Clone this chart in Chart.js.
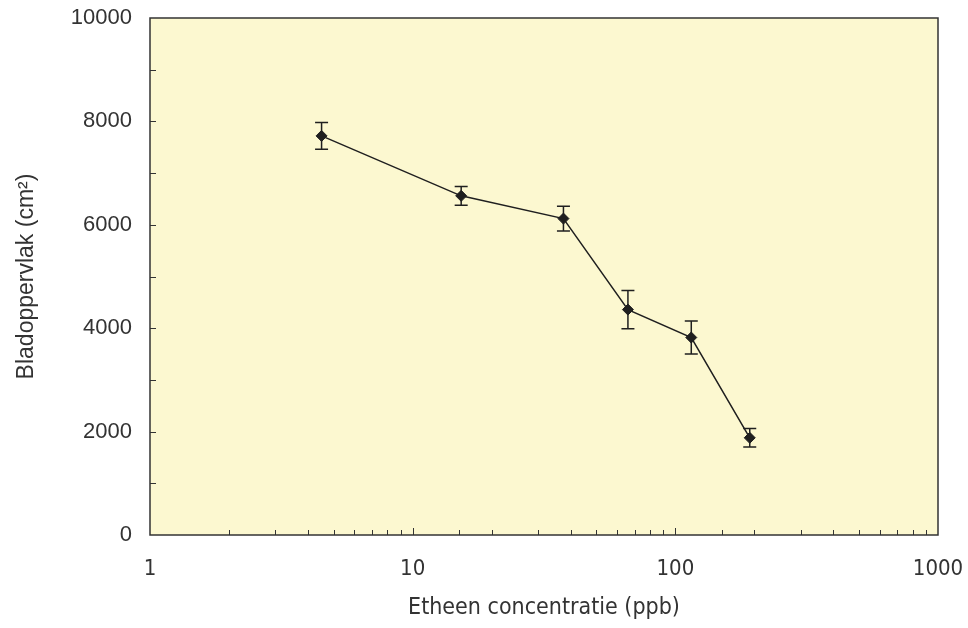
<!DOCTYPE html>
<html>
<head>
<meta charset="utf-8">
<script src="https://cdn.jsdelivr.net/npm/chart.js@4/dist/chart.umd.min.js"></script>
<style>
  body { margin: 0; background: #fff; }
  #wrap { width: 968px; height: 628px; position: relative; }
</style>
</head>
<body>
<div id="wrap"><canvas id="chart"></canvas></div>
<script>
const concentration = [4.5, 15.3, 37.5, 66, 115, 192];      // ppb
const leafArea      = [7720, 6560, 6120, 4360, 3820, 1880]; // cm²
const leafAreaErr   = [260, 180, 240, 370, 320, 180];       // ± error
const yTickLabels   = [0, 2000, 4000, 6000, 8000, 10000];
const xTickLabels   = [1, 10, 100, 1000];

const ink = "#333333";
const markColor = "#1f1f1f";
const narrow = "'DejaVu Sans Condensed', 'Liberation Sans Narrow', 'Liberation Sans', sans-serif";

// background of the plot area + frame + inward ticks + error bars
const framePlugin = {
  id: "frame",
  beforeDraw(chart) {
    const { ctx, chartArea: a } = chart;
    ctx.save();
    ctx.fillStyle = "#FCF8D0";
    ctx.fillRect(a.left, a.top, a.right - a.left, a.bottom - a.top);
    ctx.restore();
  },
  beforeDatasetsDraw(chart) {
    const { ctx, chartArea: a, scales } = chart;
    ctx.save();
    ctx.strokeStyle = ink;
    ctx.lineWidth = 1;
    // x ticks (log), pointing up into the plot
    scales.x.ticks.forEach(t => {
      const v = t.value;
      if (v <= 1 || v >= 1000) return;
      const px = Math.round(scales.x.getPixelForValue(v)) + 0.5;
      const len = xTickLabels.includes(v) ? 7 : 5;
      ctx.beginPath();
      ctx.moveTo(px, a.bottom);
      ctx.lineTo(px, a.bottom - len);
      ctx.stroke();
    });
    // y ticks, every 1000, pointing right
    scales.y.ticks.forEach(t => {
      const v = t.value;
      if (v <= 0 || v >= 10000) return;
      const py = Math.round(scales.y.getPixelForValue(v)) + 0.5;
      ctx.beginPath();
      ctx.moveTo(a.left, py);
      ctx.lineTo(a.left + 6, py);
      ctx.stroke();
    });
    // frame
    ctx.lineWidth = 1.5;
    ctx.strokeRect(a.left, a.top, a.right - a.left, a.bottom - a.top);

    // error bars
    ctx.strokeStyle = markColor;
    ctx.lineWidth = 1.5;
    concentration.forEach((c, i) => {
      const px = scales.x.getPixelForValue(c);
      const yTop = scales.y.getPixelForValue(leafArea[i] + leafAreaErr[i]);
      const yBot = scales.y.getPixelForValue(leafArea[i] - leafAreaErr[i]);
      ctx.beginPath();
      ctx.moveTo(px, yTop);
      ctx.lineTo(px, yBot);
      ctx.moveTo(px - 6.5, yTop);
      ctx.lineTo(px + 6.5, yTop);
      ctx.moveTo(px - 6.5, yBot);
      ctx.lineTo(px + 6.5, yBot);
      ctx.stroke();
    });
    ctx.restore();
  }
};

const ctx = document.getElementById("chart").getContext("2d");
new Chart(ctx, {
  type: "line",
  data: {
    datasets: [{
      data: concentration.map((c, i) => ({ x: c, y: leafArea[i] })),
      borderColor: markColor,
      borderWidth: 1.5,
      pointStyle: "rectRot",
      pointRadius: 5.5,
      pointBorderWidth: 1,
      pointBackgroundColor: markColor,
      pointBorderColor: markColor,
      tension: 0
    }]
  },
  plugins: [framePlugin],
  options: {
    responsive: true,
    maintainAspectRatio: false,
    animation: false,
    layout: { padding: { top: 18, right: 30, left: 0, bottom: 0 } },
    plugins: { legend: { display: false }, tooltip: { enabled: false } },
    scales: {
      x: {
        type: "logarithmic",
        min: 1,
        max: 1000,
        border: { display: false },
        grid: { display: false, drawTicks: false },
        ticks: {
          autoSkip: false,
          maxRotation: 0,
          padding: 21,
          color: ink,
          font: { family: narrow, size: 22 },
          callback: v => xTickLabels.includes(v) ? String(v) : ""
        },
        title: {
          display: true,
          text: "Etheen concentratie (ppb)",
          color: ink,
          font: { family: narrow, size: 23 },
          padding: { top: 0, bottom: 6 }
        },
        afterFit(scale) {
          scale.height = 93;
          scale.paddingLeft = 0;
          scale.paddingRight = 0;
        }
      },
      y: {
        min: 0,
        max: 10000,
        border: { display: false },
        grid: { display: false, drawTicks: false },
        ticks: {
          stepSize: 1000,
          autoSkip: false,
          padding: 18,
          color: ink,
          font: { family: "'Liberation Sans', sans-serif", size: 22 },
          callback: v => yTickLabels.includes(v) ? String(v) : ""
        },
        title: {
          display: true,
          text: "Bladoppervlak (cm²)",
          color: ink,
          font: { family: "'Liberation Sans', sans-serif", size: 23 },
          padding: { top: 13, bottom: 0 }
        },
        afterFit(scale) {
          scale.width = 150;
          scale.paddingTop = 0;
          scale.paddingBottom = 0;
        }
      }
    }
  }
});
</script>
</body>
</html>
